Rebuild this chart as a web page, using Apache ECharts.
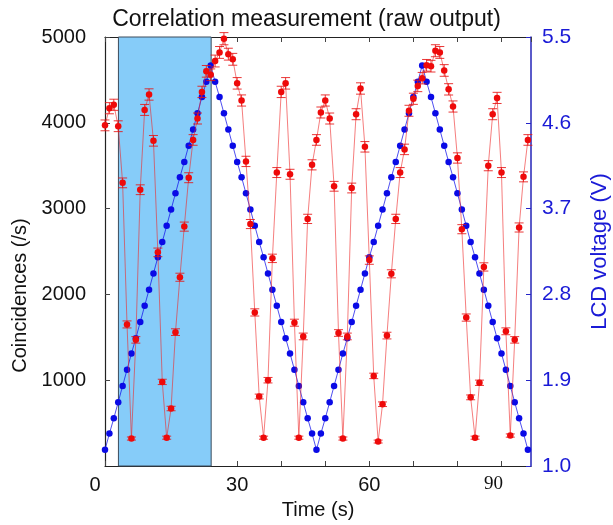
<!DOCTYPE html>
<html><head><meta charset="utf-8">
<script src="https://cdn.jsdelivr.net/npm/echarts@6/dist/echarts.min.js"></script>
<style>html,body{margin:0;padding:0;background:#fff}#c{width:613px;height:525px}</style>
</head><body><div id="c"></div>
<script>
const times = [0,1,2,3,4,5,6,7,8,9,10,11,12,13,14,15,16,17,18,19,20,21,22,23,24,25,26,27,28,29,30,31,32,33,34,35,36,37,38,39,40,41,42,43,44,45,46,47,48,49,50,51,52,53,54,55,56,57,58,59,60,61,62,63,64,65,66,67,68,69,70,71,72,73,74,75,76,77,78,79,80,81,82,83,84,85,86,87,88,89,90,91,92,93,94,95,96];
const counts = [3970,4170,4210,3960,3300,1650,320,1470,3220,4150,4330,3790,2490,980,330,670,1560,2200,2790,3360,3800,4050,4360,4600,4560,4720,4820,4980,4800,4740,4460,4260,3550,2820,1790,810,330,1000,2420,3420,4360,4460,3400,1670,330,1510,2880,3510,3800,4120,4260,4050,3260,1550,320,1510,3240,4100,4400,3720,2400,1050,285,720,1520,2240,2880,3420,3690,4140,4280,4430,4520,4670,4660,4840,4820,4610,4390,4190,3590,2760,1730,800,330,970,2320,3500,4100,4290,3420,1570,355,1470,2780,3370,3800];
const countErrors = [63,65,65,63,57,41,18,38,57,64,66,62,50,31,18,26,39,47,53,58,62,64,66,68,68,69,69,71,69,69,67,65,60,53,42,28,18,32,49,58,66,67,58,41,18,39,54,59,62,64,65,64,57,39,18,39,57,64,66,61,49,32,17,27,39,47,54,58,61,64,65,67,67,68,68,70,69,68,66,65,60,53,42,28,18,31,48,59,64,65,58,40,19,38,53,58,62];
const voltages = [1.17,1.34,1.50,1.67,1.84,2.01,2.18,2.34,2.51,2.68,2.85,3.02,3.19,3.35,3.52,3.69,3.86,4.03,4.19,4.36,4.53,4.70,4.87,5.03,5.20,
  5.03,4.87,4.70,4.53,4.36,4.19,4.03,3.86,3.69,3.52,3.35,3.19,3.02,2.85,2.68,2.51,2.34,2.18,2.01,1.84,1.67,1.50,1.34,1.17,
  1.34,1.50,1.67,1.84,2.01,2.18,2.34,2.51,2.68,2.85,3.02,3.19,3.35,3.52,3.69,3.86,4.03,4.19,4.36,4.53,4.70,4.87,5.03,5.20,
  5.03,4.87,4.70,4.53,4.36,4.19,4.03,3.86,3.69,3.52,3.35,3.19,3.02,2.85,2.68,2.51,2.34,2.18,2.01,1.84,1.67,1.50,1.34,1.17];
const shadedSpan = [3.05, 24.1];
const xTickLabels = [0, 30, 60, 90];

const FONT = "'Liberation Sans', Arial, Helvetica, sans-serif";
const chart = echarts.init(document.getElementById('c'), null, {renderer: 'canvas'});

const redData = times.map((t, i) => [t, counts[i]]);
const errData = times.map((t, i) => [t, counts[i] - countErrors[i], counts[i] + countErrors[i]]);
const blueData = times.map((t, i) => [t, voltages[i]]);

const xBase = {
  type: 'value', min: 0, max: 96.7, interval: 10,
  splitLine: {show: false},
  axisLine: {show: true, onZero: false, lineStyle: {color: '#222', width: 1.2}},
  axisTick: {show: true, inside: true, length: 5, lineStyle: {color: '#444'}}
};

chart.setOption({
  animation: false,
  backgroundColor: '#fff',
  title: {
    text: 'Correlation measurement (raw output)', left: 'center', top: 3,
    textStyle: {fontFamily: FONT, fontSize: 23, fontWeight: 'normal', color: '#111'}
  },
  grid: {left: 105, right: 82, top: 37, bottom: 59, containLabel: false, outerBoundsMode: 'none'},
  xAxis: [
    Object.assign({}, xBase, {
      position: 'bottom',
      name: 'Time (s)', nameLocation: 'middle', nameGap: 34,
      nameTextStyle: {fontFamily: FONT, fontSize: 20, color: '#111'},
      axisLabel: {
        fontFamily: FONT, fontSize: 20, color: '#111', margin: 9,
        showMaxLabel: false,
        formatter: v => {
          if (!xTickLabels.includes(v)) return '';
          if (v === 0) return '{z|0}';
          if (v === 90) return '{s|90}';
          return String(v);
        },
        rich: {
          z: {fontFamily: FONT, fontSize: 20, color: '#111', padding: [0, 20, 12, 0]},
          s: {fontFamily: "'Liberation Serif', 'DejaVu Serif', 'Times New Roman', serif", fontSize: 19, color: '#111', padding: [0, 16, 0, 0]}
        }
      }
    }),
    Object.assign({}, xBase, {position: 'top', axisLabel: {show: false}})
  ],
  yAxis: [
    {
      type: 'value', position: 'left', min: 0, max: 5000, interval: 1000,
      name: 'Coincidences (/s)', nameLocation: 'middle', nameGap: 64,
      nameTextStyle: {fontFamily: FONT, fontSize: 20, color: '#111', padding: [0, 88, 0, 0]},
      splitLine: {show: false},
      axisLine: {show: true, onZero: false, lineStyle: {color: '#222', width: 1.2}},
      axisTick: {show: true, inside: true, length: 5, lineStyle: {color: '#444'}},
      axisLabel: {fontFamily: FONT, fontSize: 20, color: '#111', margin: 19, showMinLabel: false,
        formatter: v => String(v)}
    },
    {
      type: 'value', position: 'right', min: 1.0, max: 5.5, alignTicks: true,
      name: 'LCD voltage (V)', nameLocation: 'middle', nameGap: 58,
      nameTextStyle: {fontFamily: FONT, fontSize: 22, color: '#1a1ad6'},
      splitLine: {show: false},
      axisLine: {show: true, onZero: false, lineStyle: {color: '#2424b8', width: 1.5}},
      axisTick: {show: true, inside: true, length: 5, lineStyle: {color: '#2424c8'}},
      axisLabel: {fontFamily: FONT, fontSize: 21, color: '#1a1ad6', margin: 11, formatter: v => v.toFixed(1)}
    }
  ],
  series: [
    {
      type: 'line', name: 'LCD voltage', xAxisIndex: 0, yAxisIndex: 1, data: blueData,
      symbol: 'circle', symbolSize: 6.5, showSymbol: true,
      lineStyle: {color: 'rgba(20,20,235,0.75)', width: 1},
      itemStyle: {color: '#0a0ae6'},
      z: 2,
      markArea: {
        silent: true,
        itemStyle: {color: '#86ccf9', borderColor: '#3c4c5c', borderWidth: 1},
        data: [[{xAxis: shadedSpan[0]}, {xAxis: shadedSpan[1]}]]
      }
    },
    {
      type: 'line', name: 'Coincidences', xAxisIndex: 0, yAxisIndex: 0, data: redData,
      symbol: 'none',
      lineStyle: {color: 'rgba(238,40,40,0.6)', width: 1},
      z: 3
    },
    {
      type: 'custom', name: 'errors', xAxisIndex: 0, yAxisIndex: 0, data: errData,
      encode: {x: 0, y: [1, 2]},
      z: 4,
      renderItem: (params, api) => {
        const x = api.value(0);
        const lo = api.coord([x, api.value(1)]);
        const hi = api.coord([x, api.value(2)]);
        const w = 4.5;
        const style = {stroke: 'rgba(230,20,20,0.85)', lineWidth: 1};
        return {type: 'group', children: [
          {type: 'line', shape: {x1: lo[0], y1: lo[1], x2: hi[0], y2: hi[1]}, style},
          {type: 'line', shape: {x1: lo[0] - w, y1: lo[1], x2: lo[0] + w, y2: lo[1]}, style},
          {type: 'line', shape: {x1: hi[0] - w, y1: hi[1], x2: hi[0] + w, y2: hi[1]}, style}
        ]};
      }
    },
    {
      type: 'scatter', name: 'counts', xAxisIndex: 0, yAxisIndex: 0, data: redData,
      symbol: 'circle', symbolSize: 6.5,
      itemStyle: {color: '#ee0a0a', opacity: 1},
      z: 5
    }
  ]
});
</script>
</body></html>
